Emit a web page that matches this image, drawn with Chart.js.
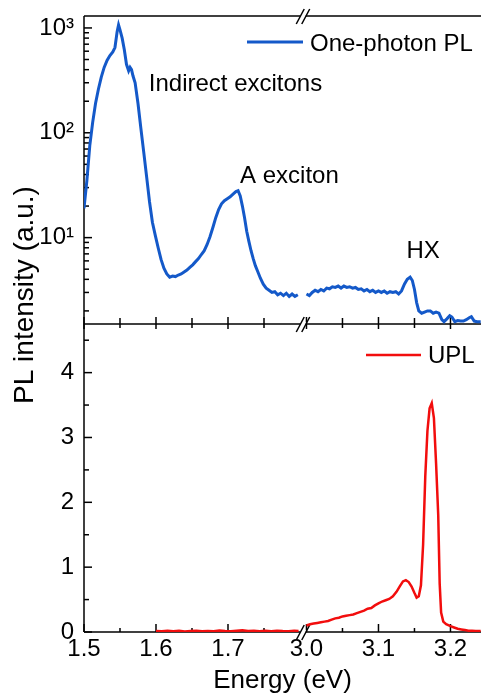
<!DOCTYPE html>
<html>
<head>
<meta charset="utf-8">
<script src="https://cdn.jsdelivr.net/npm/chart.js@4.4.1/dist/chart.umd.min.js"></script>
<style>
    html, body { margin: 0; padding: 0; background: #fff; }
</style>
</head>
<body>
<canvas id="grafica" width="481" height="700"></canvas>
<script>
// one-photon PL, low-energy part (eV / a.u., log panel)
const onePhotonE1 = [1.500, 1.504, 1.508, 1.512, 1.516, 1.520, 1.524, 1.528, 1.532, 1.536, 1.540,
    1.543, 1.546, 1.548, 1.550, 1.553, 1.556, 1.559, 1.562, 1.564, 1.566, 1.568, 1.571,
    1.575, 1.579, 1.583, 1.587, 1.591, 1.595, 1.599, 1.603, 1.607, 1.611, 1.615, 1.619, 1.623,
    1.627, 1.631, 1.635, 1.639, 1.643, 1.647, 1.651, 1.655, 1.659, 1.663, 1.667, 1.671, 1.675,
    1.679, 1.683, 1.687, 1.691, 1.695, 1.699, 1.703, 1.707, 1.711,
    1.714, 1.717, 1.720, 1.723, 1.726, 1.729, 1.732, 1.735, 1.738, 1.741,
    1.745, 1.749, 1.753, 1.757, 1.761, 1.765, 1.769, 1.773, 1.777, 1.781, 1.785, 1.789, 1.793, 1.797];
const onePhotonI1 = [19, 35, 75, 125, 190, 260, 340, 420, 490, 545, 590,
    650, 920, 1070, 960, 800, 620, 450, 390, 420, 400, 350, 300,
    190, 110, 65, 38, 22, 14, 10.5, 8.0, 6.2, 5.1, 4.5, 4.2, 4.3,
    4.25, 4.4, 4.5, 4.7, 4.9, 5.2, 5.5, 5.9, 6.3, 6.9, 7.5, 8.6, 10.2,
    12.5, 15.5, 18.5, 21, 22.5, 23.5, 24.5, 26, 27.5,
    28, 25, 20, 15.5, 11.5, 9.2, 7.5, 6.3, 5.4, 4.8,
    4.1, 3.6, 3.3, 3.15, 3.0, 3.05, 2.85, 2.95, 2.8, 2.95, 2.75, 2.9, 2.75, 2.85];

// one-photon PL, high-energy part
const onePhotonE2 = [3.000, 3.004, 3.008, 3.012, 3.016, 3.020, 3.024, 3.028, 3.032, 3.036, 3.040,
    3.044, 3.048, 3.052, 3.056, 3.060, 3.064, 3.068, 3.072, 3.076, 3.080, 3.084, 3.088, 3.092,
    3.096, 3.100, 3.104, 3.108, 3.112, 3.116, 3.120, 3.124, 3.128,
    3.132, 3.136, 3.140, 3.144, 3.147, 3.150, 3.153, 3.156, 3.160, 3.164, 3.168, 3.172, 3.176,
    3.180, 3.184, 3.188, 3.191, 3.195, 3.199, 3.202, 3.206, 3.210, 3.214, 3.218, 3.222, 3.226,
    3.229, 3.233, 3.237, 3.242];
const onePhotonI2 = [2.9, 2.8, 3.0, 3.15, 3.05, 3.2, 3.1, 3.3, 3.25, 3.4, 3.35,
    3.45, 3.3, 3.45, 3.35, 3.4, 3.3, 3.35, 3.2, 3.25, 3.1, 3.2, 3.05, 3.15,
    3.0, 3.1, 3.0, 3.1, 2.95, 3.05, 3.0, 3.05, 2.9,
    3.1, 3.6, 4.0, 4.2, 3.9, 3.2, 2.4, 2.0, 1.9, 1.95, 2.0, 2.0, 1.9,
    1.95, 1.9, 1.65, 1.58, 1.68, 1.8, 1.75, 1.58, 1.62, 1.6, 1.6, 1.65, 1.72,
    1.76, 1.6, 1.58, 1.58];

// UPL, low-energy part (linear panel)
const uplE1 = [1.600, 1.608, 1.616, 1.624, 1.632, 1.640, 1.648, 1.656, 1.664, 1.672, 1.680, 1.688, 1.696,
    1.704, 1.712, 1.720, 1.728, 1.736, 1.744, 1.752, 1.760, 1.768, 1.776, 1.784, 1.792, 1.798];
const uplI1 = [0.015, 0.01, 0.02, 0.012, 0.018, 0.008, 0.015, 0.02, 0.01, 0.016, 0.012, 0.022, 0.014,
    0.01, 0.018, 0.025, 0.015, 0.02, 0.012, 0.018, 0.01, 0.02, 0.015, 0.012, 0.018, 0.014];

// UPL, high-energy part
const uplE2 = [3.000, 3.005, 3.010, 3.015, 3.020, 3.025, 3.030, 3.035, 3.040, 3.045, 3.050, 3.055,
    3.060, 3.065, 3.070, 3.075, 3.080, 3.085, 3.090, 3.095, 3.100, 3.105, 3.110, 3.115, 3.120,
    3.125, 3.130, 3.134, 3.138, 3.142, 3.146, 3.150, 3.153, 3.156, 3.159, 3.162, 3.165, 3.168,
    3.171, 3.174, 3.177, 3.180, 3.183, 3.185, 3.187, 3.190, 3.194, 3.200, 3.205, 3.210, 3.215,
    3.220, 3.225, 3.230, 3.235, 3.242];
const uplI2 = [0.10, 0.12, 0.13, 0.14, 0.15, 0.16, 0.17, 0.19, 0.21, 0.22, 0.24, 0.25,
    0.26, 0.27, 0.29, 0.31, 0.33, 0.36, 0.37, 0.41, 0.44, 0.47, 0.49, 0.51, 0.55,
    0.62, 0.71, 0.78, 0.80, 0.77, 0.70, 0.60, 0.53, 0.55, 0.72, 1.35, 2.40, 3.10,
    3.45, 3.53, 3.30, 2.60, 1.80, 0.75, 0.30, 0.16, 0.12, 0.09, 0.07, 0.05, 0.04,
    0.03, 0.02, 0.02, 0.015, 0.015];

// ticks
const xMajor = [1.5, 1.6, 1.7, 3.0, 3.1, 3.2];
const xMinor = [1.55, 1.65, 1.75, 3.05, 3.15];
const topTicks = [10, 100, 1000];
const topTickLabels = ['10\u00B9', '10\u00B2', '10\u00B3'];
const botTicks = [0, 1, 2, 3, 4];
const botMinor = [0.5, 1.5, 2.5, 3.5, 4.5];

const BLUE = '#1459c9';
const RED = '#f20d0d';
const FONT = "'Liberation Sans', Arial, sans-serif";

// broken axis: 1.5-1.8 eV, then 3.0 eV continues right after the break
const BREAK_AT = 1.809;
function mapX(e) {
    return e < 2 ? e : e - 3.0 + BREAK_AT;
}

function buildPoints(e1, v1, e2, v2) {
    const pts = e1.map((e, i) => ({ x: mapX(e), y: v1[i] }));
    pts.push({ x: (1.8 + BREAK_AT) / 2, y: null });
    return pts.concat(e2.map((e, i) => ({ x: mapX(e), y: v2[i] })));
}

// keep chart area fixed: no extra room reserved for edge labels
function fixPadding(s) {
    s.paddingTop = 0;
    s.paddingBottom = 0;
    s.paddingLeft = 0;
    s.paddingRight = 0;
}

Chart.defaults.font.family = FONT;
Chart.defaults.color = '#000';

function seg(ctx, x1, y1, x2, y2) {
    ctx.beginPath();
    ctx.moveTo(x1, y1);
    ctx.lineTo(x2, y2);
    ctx.stroke();
}

const frame = {
    id: 'frame',
    beforeDatasetsDraw(chart) {
        const { ctx, chartArea: area, scales } = chart;
        const sx = scales.x, yTop = scales.yTop, yBot = scales.yBot;
        const mid = yTop.bottom;
        const px = v => sx.getPixelForValue(mapX(v));

        ctx.save();
        ctx.strokeStyle = '#000';
        ctx.lineWidth = 1.5;
        seg(ctx, area.left, area.top, area.left, area.bottom);
        [area.top, mid, area.bottom].forEach(y => seg(ctx, area.left, y, area.right, y));

        xMajor.forEach(v => {
            const p = px(v);
            seg(ctx, p, area.bottom, p, area.bottom - 8);
            seg(ctx, p, mid, p, mid - 7);
            seg(ctx, p, mid, p, mid + 5);
        });
        xMinor.forEach(v => {
            const p = px(v);
            seg(ctx, p, area.bottom, p, area.bottom - 4);
            seg(ctx, p, mid, p, mid - 6);
            seg(ctx, p, mid, p, mid + 4);
        });

        topTicks.forEach(v => {
            const p = yTop.getPixelForValue(v);
            seg(ctx, area.left, p, area.left + 8, p);
        });
        for (let d = 1; d <= 1000; d *= 10) {
            for (let m = 2; m <= 9; m++) {
                const v = m * d;
                if (v > yTop.min && v < yTop.max) {
                    const p = yTop.getPixelForValue(v);
                    seg(ctx, area.left, p, area.left + 5, p);
                }
            }
        }
        botTicks.forEach(v => {
            const p = yBot.getPixelForValue(v);
            seg(ctx, area.left, p, area.left + 8, p);
        });
        botMinor.forEach(v => {
            const p = yBot.getPixelForValue(v);
            seg(ctx, area.left, p, area.left + 5, p);
        });

        // axis break marks
        const bx = (px(1.8) + sx.getPixelForValue(BREAK_AT)) / 2;
        [area.top, mid, area.bottom].forEach(y => {
            ctx.fillStyle = '#fff';
            ctx.fillRect(bx - 3, y - 2, 5.5, 4);
            seg(ctx, bx - 7, y + 8, bx + 1, y - 7);
            seg(ctx, bx - 1.5, y + 8, bx + 6.5, y - 7);
        });

        // legends
        ctx.lineWidth = 3;
        ctx.strokeStyle = BLUE;
        seg(ctx, area.right - 234, area.top + 26, area.right - 178, area.top + 26);
        ctx.lineWidth = 2.5;
        ctx.strokeStyle = RED;
        seg(ctx, area.right - 115, mid + 31, area.right - 60, mid + 31);

        ctx.fillStyle = '#000';
        ctx.textAlign = 'left';
        ctx.textBaseline = 'alphabetic';
        ctx.font = '24px ' + FONT;
        ctx.fillText('One-photon PL', area.right - 171, area.top + 35);
        ctx.fillText('UPL', area.right - 53, mid + 39);

        // peak labels anchored in data coordinates
        ctx.fillText('Indirect excitons', px(1.590), yTop.getPixelForValue(249));
        ctx.fillText('A exciton', px(1.7167), yTop.getPixelForValue(33.4));
        ctx.fillText('HX', px(3.1389), yTop.getPixelForValue(6.37));

        // shared y title
        ctx.font = '28px ' + FONT;
        ctx.textAlign = 'center';
        ctx.translate(33, (area.top + area.bottom) / 2 - 29);
        ctx.rotate(-Math.PI / 2);
        ctx.fillText('PL intensity (a.u.)', 0, 0);
        ctx.restore();
    }
};

new Chart(document.getElementById('grafica'), {
    type: 'line',
    data: {
        datasets: [{
            label: 'One-photon PL',
            data: buildPoints(onePhotonE1, onePhotonI1, onePhotonE2, onePhotonI2),
            yAxisID: 'yTop',
            borderColor: BLUE,
            borderWidth: 3,
            pointRadius: 0,
            tension: 0,
            spanGaps: false
        }, {
            label: 'UPL',
            data: buildPoints(uplE1, uplI1, uplE2, uplI2),
            yAxisID: 'yBot',
            borderColor: RED,
            borderWidth: 2.5,
            pointRadius: 0,
            tension: 0,
            spanGaps: false
        }]
    },
    options: {
        responsive: false,
        animation: false,
        layout: { padding: { top: 16, right: 0, bottom: 0, left: 0 } },
        plugins: {
            legend: { display: false },
            tooltip: { enabled: false }
        },
        scales: {
            x: {
                type: 'linear',
                min: 1.5,
                max: mapX(3.2424),
                grid: { display: false, drawTicks: false },
                border: { display: false },
                afterBuildTicks: s => { s.ticks = xMajor.map(v => ({ value: mapX(v) })); },
                ticks: {
                    callback: (v, i) => xMajor[i].toFixed(1),
                    font: { size: 24 },
                    padding: 3,
                    maxRotation: 0,
                    autoSkip: false
                },
                title: {
                    display: true,
                    text: 'Energy (eV)',
                    font: { size: 26 },
                    padding: { top: 0, bottom: 4 }
                },
                afterFit: s => { s.height = 68; fixPadding(s); }
            },
            // stacked panels: the first one declared ends up at the bottom
            yBot: {
                type: 'linear',
                position: 'left',
                stack: 'panels',
                stackWeight: 1,
                min: 0,
                max: 4.75,
                grid: { display: false, drawTicks: false },
                border: { display: false },
                afterBuildTicks: s => { s.ticks = botTicks.map(v => ({ value: v })); },
                ticks: {
                    callback: (v, i) => String(botTicks[i]),
                    font: { size: 24 },
                    padding: 10,
                    autoSkip: false
                },
                afterFit: s => { s.width = 84; fixPadding(s); }
            },
            yTop: {
                type: 'logarithmic',
                position: 'left',
                stack: 'panels',
                stackWeight: 1,
                min: 1.5,
                max: 1300,
                grid: { display: false, drawTicks: false },
                border: { display: false },
                afterBuildTicks: s => { s.ticks = topTicks.map(v => ({ value: v })); },
                ticks: {
                    callback: (v, i) => topTickLabels[i],
                    font: { size: 24 },
                    padding: 10,
                    autoSkip: false
                },
                afterFit: s => { s.width = 84; fixPadding(s); }
            }
        }
    },
    plugins: [frame]
});
</script>
</body>
</html>
